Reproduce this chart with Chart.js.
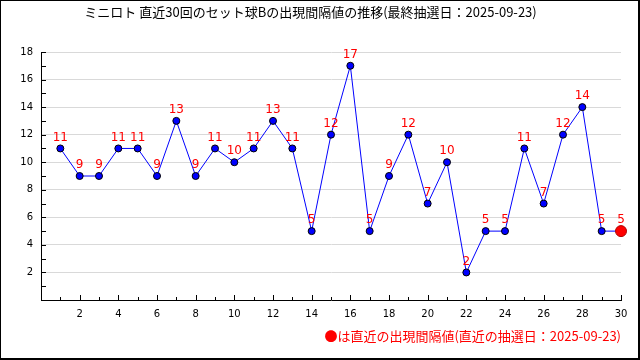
<!DOCTYPE html>
<html>
<head>
<meta charset="utf-8">
<script src="https://cdn.jsdelivr.net/npm/chart.js@4"></script>
<style>
html,body{margin:0;padding:0;background:#fff;}
#wrap{width:640px;height:360px;}
</style>
</head>
<body>
<div id="wrap"><canvas id="c" width="640" height="360"></canvas></div>
<script>
const titleText = "ミニロト 直近30回のセット球Bの出現間隔値の推移(最終抽選日：2025-09-23)";
const legendText = "●は直近の出現間隔値(直近の抽選日：2025-09-23)";
const draws = [1,2,3,4,5,6,7,8,9,10,11,12,13,14,15,16,17,18,19,20,21,22,23,24,25,26,27,28,29,30];
const intervals = [11,9,9,11,11,9,13,9,11,10,11,13,11,5,12,17,5,9,12,7,10,2,5,5,11,7,12,14,5,5];
const yMin = 0, yMax = 18, xMin = 0, xMax = 30;

const pts = draws.map((d,i)=>({x:d,y:intervals[i]}));
const last = pts.length-1;

const decor = {
  id:'decor',
  afterDatasetsDraw(chart){
    const ctx = chart.ctx;
    const xs = chart.scales.x, ys = chart.scales.y;
    const area = chart.chartArea;
    ctx.save();
    ctx.strokeStyle = '#000';
    ctx.lineWidth = 1;
    ctx.beginPath();
    for(let v=yMin+1; v<=yMax; v++){
      const y = Math.round(ys.getPixelForValue(v))+0.5;
      ctx.moveTo(area.left, y); ctx.lineTo(area.left+5, y);
    }
    for(let v=xMin+1; v<=xMax; v++){
      const x = Math.round(xs.getPixelForValue(v))+0.5;
      const len = (v%2===0)?5:3;
      ctx.moveTo(x, area.bottom); ctx.lineTo(x, area.bottom-len);
    }
    ctx.stroke();
    const meta = chart.getDatasetMeta(0);
    ctx.fillStyle = '#ff0000';
    ctx.font = '12px "DejaVu Sans"';
    ctx.textAlign = 'center';
    ctx.textBaseline = 'middle';
    meta.data.forEach((p,i)=>{
      ctx.fillText(String(intervals[i]), p.x, p.y-11);
    });
    ctx.restore();
  },
  afterDraw(chart){
    const ctx = chart.ctx;
    ctx.save();
    ctx.fillStyle = '#000';
    ctx.fillRect(0,0,640,1);
    ctx.fillRect(0,0,1,360);
    ctx.fillRect(638,0,2,360);
    ctx.fillRect(0,358,640,2);
    ctx.restore();
  }
};

new Chart(document.getElementById('c'), {
  type:'line',
  data:{datasets:[{
    data:pts,
    clip:false,
    borderColor:'#0000ff',
    borderWidth:1,
    tension:0,
    pointBackgroundColor:pts.map((p,i)=> i===last ? '#ff0000' : '#0000ff'),
    pointBorderColor:pts.map((p,i)=> i===last ? '#b00000' : '#000000'),
    pointBorderWidth:1,
    pointRadius:pts.map((p,i)=> i===last ? 5.5 : 3.5),
    fill:false
  }]},
  options:{
    responsive:false,
    animation:false,
    layout:{padding:{left:0,right:19,top:0,bottom:0}},
    plugins:{
      legend:{display:false},
      tooltip:{enabled:false},
      title:{display:true,text:titleText,color:'#000',
        font:{family:'"Noto Sans CJK JP"',size:13,weight:'normal'},
        padding:{top:4,bottom:32.4}},
      subtitle:{display:true,position:'bottom',align:'end',text:legendText,color:'#ff0000',
        font:{family:'"Noto Sans CJK JP"',size:13,weight:'normal'},
        padding:{top:4,bottom:16.4}}
    },
    scales:{
      x:{type:'linear',min:xMin,max:xMax,
        afterFit(s){s.height=24;},
        border:{display:true,color:'#000',width:1},
        grid:{display:false,drawTicks:false},
        ticks:{stepSize:1,autoSkip:false,maxRotation:0,padding:8,color:'#000',font:{family:'"DejaVu Sans"',size:10},
          callback:(v)=> (v>0 && v%2===0) ? String(v) : ''}
      },
      y:{min:yMin,max:yMax,
        afterFit(s){s.width=41;},
        border:{display:true,color:'#000',width:1},
        grid:{drawTicks:false,color:(c)=> (c.tick && c.tick.value>0 && c.tick.value%2===0) ? '#d9d9d9' : 'rgba(0,0,0,0)'},
        ticks:{stepSize:1,autoSkip:false,padding:8,color:'#000',font:{family:'"DejaVu Sans"',size:10},
          callback:(v)=> (v>0 && v%2===0) ? String(v) : ''}
      }
    }
  },
  plugins:[decor]
});
</script>
</body>
</html>
